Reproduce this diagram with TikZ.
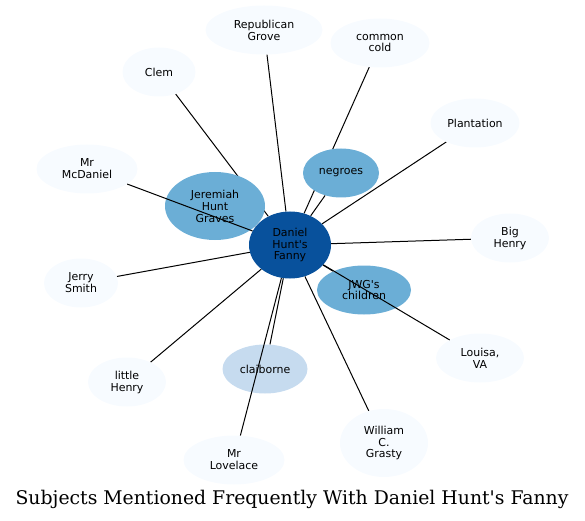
\documentclass[tikz,border=0pt]{standalone}
\usepackage{fontspec}
\setmainfont{DejaVu Sans}
\newfontfamily\titlefont{DejaVu Serif}
\usetikzlibrary{shapes.geometric,backgrounds}

\definecolor{hubblue}{HTML}{08519C}
\definecolor{midblue}{HTML}{6BAED6}
\definecolor{paleblue}{HTML}{C6DBEF}
\definecolor{leafblue}{HTML}{F7FBFF}

\begin{document}
\begin{tikzpicture}[x=1bp, y=-1bp,
    topic/.style={ellipse, inner sep=0pt, fill=leafblue,
                  minimum width=88bp, minimum height=49bp, align=center,
                  font=\fontsize{11}{12}\selectfont},
    hub/.style={topic, fill=hubblue, minimum width=82bp, minimum height=67bp},
    link/.style={line width=1bp, black}
]
\useasboundingbox (0,0) rectangle (585,521);

% centre
\node[hub] (fanny) at (290,245) {Daniel\\Hunt\textquotesingle s\\Fanny};

% close topics
\node[topic, fill=midblue, minimum width=100bp, minimum height=68bp] (graves) at (215,206) {Jeremiah\\Hunt\\Graves};
\node[topic, fill=midblue, minimum width=76bp] (negroes) at (341,173) {negroes};
\node[topic, fill=midblue, minimum width=94bp] (children) at (364,290) {JWG\textquotesingle s\\children};
\node[topic, fill=paleblue, minimum width=85bp] (claiborne) at (265,369) {claiborne};

% outer topics
\node[topic, minimum width=117bp] (grove) at (264,30) {Republican\\Grove};
\node[topic, minimum width=99bp] (cold) at (380,43) {common\\cold};
\node[topic, minimum width=73bp] (clem) at (159,72) {Clem};
\node[topic, minimum width=89bp] (plantation) at (475,123) {Plantation};
\node[topic, minimum width=101bp] (mcdaniel) at (87,169) {Mr\\McDaniel};
\node[topic, minimum width=78bp] (bighenry) at (510,238) {Big\\Henry};
\node[topic, minimum width=74bp] (jerry) at (81,283) {Jerry\\Smith};
\node[topic, minimum width=88bp] (louisa) at (480,358) {Louisa,\\VA};
\node[topic, minimum width=78bp] (littlehenry) at (127,382) {little\\Henry};
\node[topic, minimum width=101bp] (lovelace) at (234,460) {Mr\\Lovelace};
\node[topic, minimum width=88bp, minimum height=68bp] (grasty) at (384,443) {William\\C.\\Grasty};

% title
\node[font=\titlefont\fontsize{18.9}{21}\selectfont] (title) at (292,499) {Subjects Mentioned Frequently With Daniel Hunt\textquotesingle s Fanny};

% links under the nodes
\begin{pgfonlayer}{background}
\foreach \n in {graves, negroes, children, claiborne, grove, cold, clem,
                plantation, bighenry, jerry, littlehenry, grasty}
    \draw[link] (fanny) -- (\n);
\end{pgfonlayer}

% links drawn over the nodes
\draw[link] (fanny) -- (mcdaniel);
\draw[link] (fanny) -- (louisa);
\draw[link] (fanny) -- (lovelace);

\end{tikzpicture}
\end{document}
